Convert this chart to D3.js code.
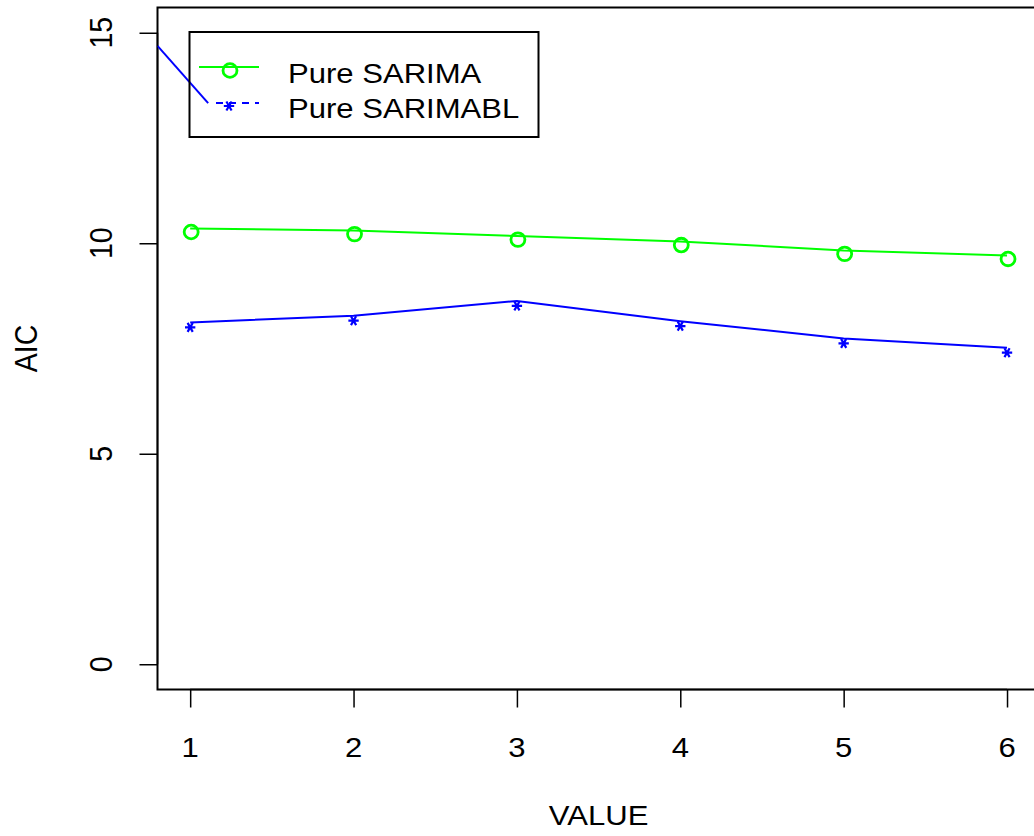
<!DOCTYPE html>
<html>
<head>
<meta charset="utf-8">
<script src="https://cdn.jsdelivr.net/npm/d3@7"></script>
<style>
  html, body { margin: 0; padding: 0; background: #fff; }
  svg { display: block; }
  text { font-family: "Liberation Sans", Arial, Helvetica, sans-serif; fill: #000; }
</style>
</head>
<body>
<svg id="chart" width="1034" height="836"></svg>
<script>
// Model index on the x axis
const xValues = [1, 2, 3, 4, 5, 6];
// AIC for each model family
const pureSarima = [10.35, 10.30, 10.17, 10.04, 9.83, 9.71];
const pureSarimabl = [8.12, 8.28, 8.63, 8.15, 7.74, 7.52];
// Extra blue segment entering from the upper left
const leadX = [0.8, 1.11];
const leadY = [14.69, 13.33];
// Axis ticks and labels
const xTicks = [1, 2, 3, 4, 5, 6];
const yTicks = [0, 5, 10, 15];
const seriesNames = ["Pure SARIMA", "Pure SARIMABL"];
const xTitle = "VALUE";
const yTitle = "AIC";

const GREEN = "#00ff00", BLUE = "#0000ff";
const FS = 28.5, STRETCH = 1.09;

const svg = d3.select("#chart");
const plot = { left: 157.5, right: 1039.7, top: 7.5, bottom: 689.5 };

const x = d3.scaleLinear().domain([0.8, 6.2]).range([plot.left, plot.right]);
const y = d3.scaleLinear().domain([-0.6, 15.6]).range([plot.bottom, plot.top]);

svg.append("defs").append("clipPath").attr("id", "plotClip")
  .append("rect")
  .attr("x", plot.left).attr("y", plot.top)
  .attr("width", plot.right - plot.left).attr("height", plot.bottom - plot.top);

// Box around plotting region
svg.append("rect")
  .attr("x", plot.left).attr("y", plot.top)
  .attr("width", plot.right - plot.left).attr("height", plot.bottom - plot.top)
  .attr("fill", "none").attr("stroke", "#000").attr("stroke-width", 2);

// X axis (ticks below the box)
const xAxis = d3.axisBottom(x).tickValues(xTicks).tickSize(18).tickFormat("");
const gx = svg.append("g").attr("transform", `translate(0,${plot.bottom})`).call(xAxis);
gx.select(".domain").attr("d", `M${x(xTicks[0])},0H${x(xTicks[xTicks.length - 1])}`)
  .attr("stroke-width", 1.5);
gx.selectAll(".tick line").attr("stroke-width", 1.5);

svg.append("g").selectAll("text").data(xTicks).join("text")
  .attr("transform", d => `translate(${x(d)},757) scale(${STRETCH},1)`)
  .attr("text-anchor", "middle")
  .attr("font-size", FS)
  .text(d => d);

// Y axis (ticks left of the box)
const yAxis = d3.axisLeft(y).tickValues(yTicks).tickSize(18).tickFormat("");
const gy = svg.append("g").attr("transform", `translate(${plot.left},0)`).call(yAxis);
gy.select(".domain").attr("d", `M0,${y(yTicks[0])}V${y(yTicks[yTicks.length - 1])}`)
  .attr("stroke-width", 1.5);
gy.selectAll(".tick line").attr("stroke-width", 1.5);

svg.append("g").selectAll("text").data(yTicks).join("text")
  .attr("transform", d => `translate(112,${y(d)}) scale(${STRETCH},1) rotate(-90)`)
  .attr("text-anchor", "middle")
  .attr("font-size", FS)
  .text(d => d);

// Axis titles
svg.append("text")
  .attr("transform", `translate(${(plot.left + plot.right) / 2},825) scale(${STRETCH},1)`)
  .attr("text-anchor", "middle").attr("font-size", FS).text(xTitle);
svg.append("text")
  .attr("transform", `translate(37,${(plot.top + plot.bottom) / 2}) scale(${STRETCH},1) rotate(-90)`)
  .attr("text-anchor", "middle").attr("font-size", FS).text(yTitle);

// Data layer
const data = svg.append("g").attr("clip-path", "url(#plotClip)");
const line = d3.line().x(d => x(d[0])).y(d => y(d[1]));

const greenPts = xValues.map((v, i) => [v, pureSarima[i]]);
const bluePts = xValues.map((v, i) => [v, pureSarimabl[i]]);
const leadPts = leadX.map((v, i) => [v, leadY[i]]);

data.append("path").datum(greenPts).attr("d", line)
  .attr("fill", "none").attr("stroke", GREEN).attr("stroke-width", 2);
data.append("path").datum(bluePts).attr("d", line)
  .attr("fill", "none").attr("stroke", BLUE).attr("stroke-width", 2);
data.append("path").datum(leadPts).attr("d", line)
  .attr("fill", "none").attr("stroke", BLUE).attr("stroke-width", 2);

// Point glyphs ("o" and "*"), sitting slightly below their line vertex
const star = d3.symbol().type(d3.symbolAsterisk).size(75);
function drawCircle(g, cx, cy) {
  g.append("ellipse").attr("cx", cx + 1).attr("cy", cy + 3.5)
    .attr("rx", 7).attr("ry", 6.8)
    .attr("fill", "none").attr("stroke", GREEN).attr("stroke-width", 2.8);
}
function drawStar(g, cx, cy) {
  g.append("path").attr("d", star())
    .attr("transform", `translate(${cx},${cy + 5}) rotate(90)`)
    .attr("fill", "none").attr("stroke", BLUE).attr("stroke-width", 2.2);
}
greenPts.forEach(p => drawCircle(data, x(p[0]), y(p[1])));
bluePts.forEach(p => drawStar(data, x(p[0]), y(p[1])));

// Legend
const legend = svg.append("g");
legend.append("rect")
  .attr("x", 189.5).attr("y", 32).attr("width", 349).attr("height", 105)
  .attr("fill", "none").attr("stroke", "#000").attr("stroke-width", 2);
legend.append("line").attr("x1", 199).attr("x2", 259).attr("y1", 67).attr("y2", 67)
  .attr("stroke", GREEN).attr("stroke-width", 2);
drawCircle(legend, 229, 67);
legend.append("line").attr("x1", 216).attr("x2", 259).attr("y1", 103).attr("y2", 103)
  .attr("stroke", BLUE).attr("stroke-width", 2).attr("stroke-dasharray", "7,6");
drawStar(legend, 229, 101);

legend.selectAll("text.lab").data(seriesNames).join("text")
  .attr("class", "lab")
  .attr("transform", (d, i) => `translate(288,${83 + i * 35}) scale(${STRETCH},1)`)
  .attr("font-size", FS)
  .text(d => d);
</script>
</body>
</html>
